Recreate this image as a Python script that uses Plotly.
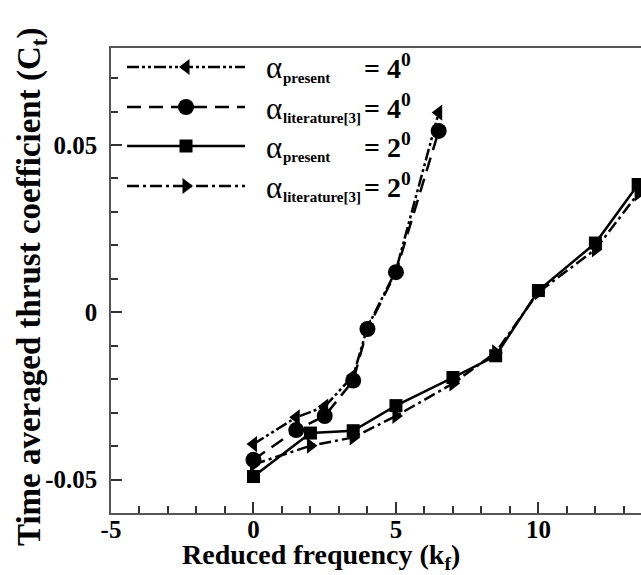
import plotly.graph_objects as go

# ---- data ----
kf_present4 = [0, 1.5, 2.5, 3.5, 4, 5, 6.5]
ct_present4 = [-0.0394, -0.0314, -0.0282, -0.019, -0.0045, 0.0125, 0.0597]

kf_lit4 = [0, 1.5, 2.5, 3.5, 4, 5, 6.5]
ct_lit4 = [-0.0441, -0.0352, -0.031, -0.0204, -0.005, 0.012, 0.0542]

kf_present2 = [0, 2, 3.5, 5, 7, 8.5, 10, 12, 13.5]
ct_present2 = [-0.0491, -0.0361, -0.0354, -0.0279, -0.0195, -0.013, 0.0065, 0.0207, 0.0382]

kf_lit2 = [0, 2, 3.5, 5, 7, 8.5, 10, 12, 13.5]
ct_lit2 = [-0.0455, -0.0399, -0.0374, -0.031, -0.0213, -0.012, 0.006, 0.0188, 0.0355]

x_tickvals = [-5, 0, 5, 10]
x_ticktext = ["-5", "0", "5", "10"]
y_tickvals = [-0.05, 0, 0.05]
y_ticktext = ["-0.05", "0", "0.05"]

legend_subs = ["present", "literature[3]", "present", "literature[3]"]
legend_values = ["= 4<sup>0</sup>", "= 4<sup>0</sup>", "= 2<sup>0</sup>", "= 2<sup>0</sup>"]

FONT = "Liberation Serif"
W, H = 641, 575
L, R, T, B = 111, 0, 48, 62


def px(x):
    return (x - L) / (W - L - R)


def py(y):
    return (H - B - y) / (H - T - B)


styles = [
    dict(dash="12px,3px,3px,3px,3px,3px", symbol="triangle-left", size=14),
    dict(dash="14px,8px", symbol="circle", size=16),
    dict(dash="solid", symbol="square", size=13),
    dict(dash="12px,4px,3px,4px", symbol="triangle-right", size=14),
]
series = [(kf_present4, ct_present4), (kf_lit4, ct_lit4),
          (kf_present2, ct_present2), (kf_lit2, ct_lit2)]

fig = go.Figure()
draw_order = [0, 1, 3, 2]
for i in draw_order:
    x, y = series[i]
    st = styles[i]
    fig.add_trace(go.Scatter(
        x=x, y=y, mode="lines+markers",
        line=dict(color="black", width=2.5, dash=st["dash"]),
        marker=dict(symbol=st["symbol"], size=st["size"], color="black"),
        showlegend=False, hoverinfo="skip"))

# ---- manual legend on a pixel-coordinate overlay axis ----
row_y = [67, 107, 146, 186]
for i in range(4):
    st = styles[i]
    ry = row_y[i]
    fig.add_trace(go.Scatter(
        x=[127, 245], y=[ry, ry], mode="lines",
        line=dict(color="black", width=2.5, dash=st["dash"]),
        xaxis="x2", yaxis="y2", showlegend=False, hoverinfo="skip"))
    fig.add_trace(go.Scatter(
        x=[186], y=[ry], mode="markers",
        marker=dict(symbol=st["symbol"], size=st["size"], color="black"),
        xaxis="x2", yaxis="y2", showlegend=False, hoverinfo="skip"))
    fig.add_annotation(x=px(264), y=py(ry + 1), xref="paper", yref="paper",
                       text="α", showarrow=False,
                       xanchor="left", yanchor="middle",
                       font=dict(family=FONT, size=31, color="black"))
    fig.add_annotation(x=px(281), y=py(ry + 11), xref="paper", yref="paper",
                       text="<b>" + legend_subs[i] + "</b>", showarrow=False,
                       xanchor="left", yanchor="middle",
                       font=dict(family=FONT, size=15, color="black"))
    fig.add_annotation(x=px(362), y=py(ry - 1), xref="paper", yref="paper",
                       text="<b>" + legend_values[i] + "</b>", showarrow=False,
                       xanchor="left", yanchor="middle",
                       font=dict(family=FONT, size=28, color="black"))

# axis titles as annotations (pixel positions converted to paper coords)
fig.add_annotation(x=px(321), y=py(556), xref="paper", yref="paper",
                   text="<b>Reduced frequency (k<sub>f</sub>)</b>", showarrow=False,
                   xanchor="center", yanchor="middle",
                   font=dict(family=FONT, size=28, color="black"))
fig.add_annotation(x=px(31), y=py(287), xref="paper", yref="paper", textangle=-90,
                   text="<b>Time averaged thrust coefficient (C<sub>t</sub>)</b>", showarrow=False,
                   xanchor="center", yanchor="middle",
                   font=dict(family=FONT, size=33, color="black"))

axis_common = dict(
    showgrid=False, zeroline=False, showline=True, linecolor="#555", linewidth=1.5,
    ticks="inside", ticklen=11, tickwidth=1.5, tickcolor="#333", automargin=False,
    tickfont=dict(family=FONT, size=25, color="black", weight="bold"),
)

fig.update_layout(
    width=W, height=H,
    margin=dict(l=L, r=R, t=T, b=B, pad=0),
    paper_bgcolor="white", plot_bgcolor="white",
    showlegend=False,
    xaxis=dict(range=[-5, 13.6], tickmode="array", tickvals=x_tickvals, ticktext=x_ticktext,
               mirror=True, ticklabelstandoff=-7,
               minor=dict(ticks="inside", ticklen=7, dtick=1, tick0=0, tickcolor="#333", tickwidth=1.5),
               **axis_common),
    yaxis=dict(range=[-0.06, 0.079], tickmode="array", tickvals=y_tickvals, ticktext=y_ticktext,
               ticklabelstandoff=7,
               minor=dict(ticks="inside", ticklen=7, dtick=0.01, tick0=0, tickcolor="#333", tickwidth=1.5),
               **axis_common),
    xaxis2=dict(range=[L, W - R], overlaying="x", visible=False, domain=[0, 1]),
    yaxis2=dict(range=[H - B, T], overlaying="y", visible=False, domain=[0, 1]),
)

fig.write_html("out.html")
